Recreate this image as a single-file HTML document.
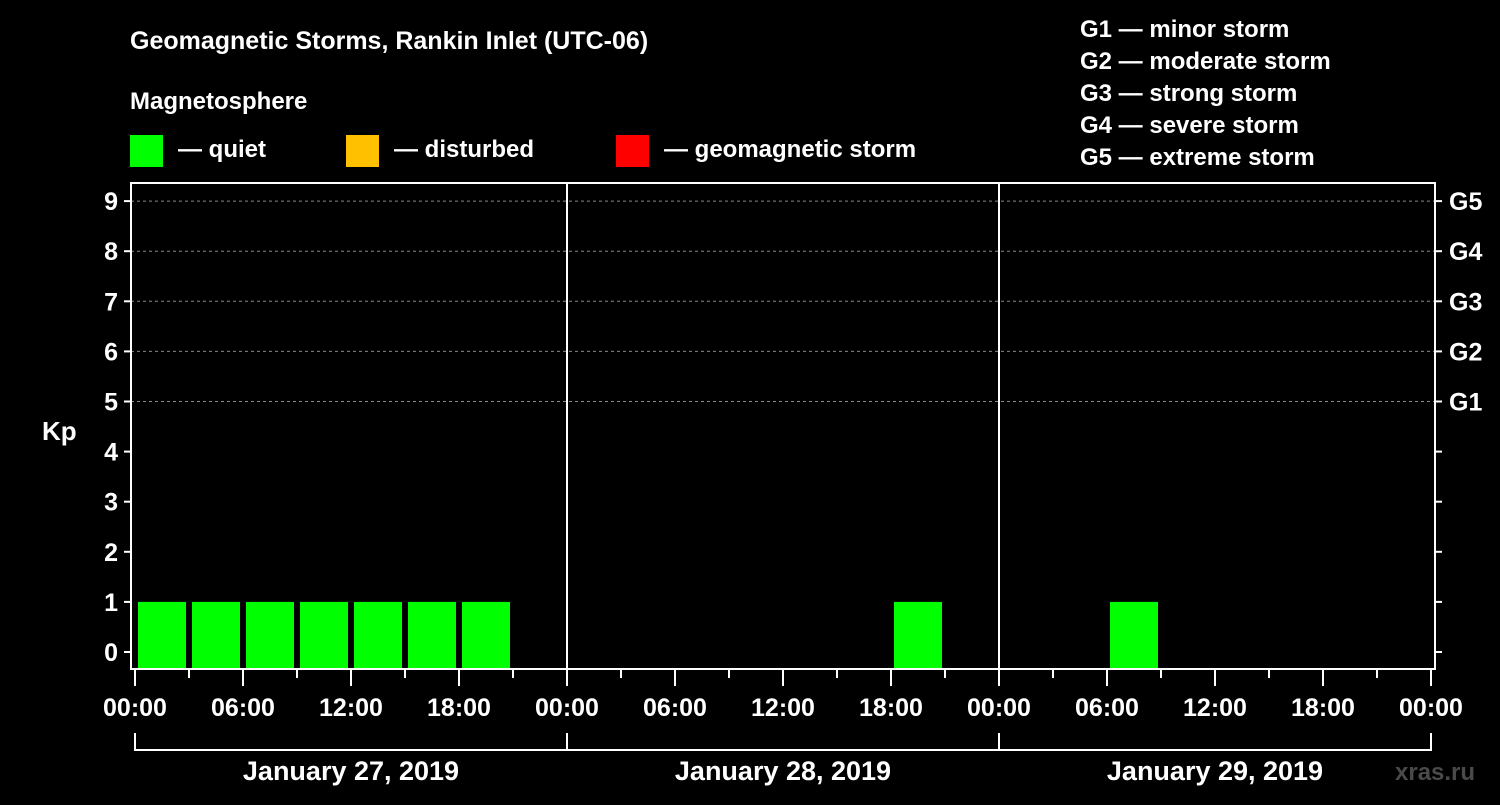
<!DOCTYPE html>
<html><head><meta charset="utf-8"><style>
body{margin:0;background:#000;width:1500px;height:800px;overflow:hidden}
svg text{font-family:"Liberation Sans",sans-serif;font-weight:bold;fill:#fff}
</style></head><body>
<svg id="c" width="1500" height="800">
<rect width="1500" height="800" fill="#000"/>
<text x="130" y="49" font-size="25">Geomagnetic Storms, Rankin Inlet (UTC-06)</text>
<text x="130" y="109" font-size="24">Magnetosphere</text>
<g><rect x="130" y="135" width="33" height="32" fill="#00ff00"/><text x="178" y="157" font-size="24">— quiet</text></g>
<g><rect x="346" y="135" width="33" height="32" fill="#ffc000"/><text x="394" y="157" font-size="24">— disturbed</text></g>
<g><rect x="616" y="135" width="33" height="32" fill="#ff0000"/><text x="664" y="157" font-size="24">— geomagnetic storm</text></g>
<g font-size="24">
<text x="1080" y="37">G1 — minor storm</text><text x="1080" y="69">G2 — moderate storm</text><text x="1080" y="101">G3 — strong storm</text><text x="1080" y="133">G4 — severe storm</text><text x="1080" y="165">G5 — extreme storm</text></g>
<text x="42" y="440" font-size="26">Kp</text>
<text x="1395" y="780" font-size="24" fill="#555" style="fill:#4a4a4a">xras.ru</text>
<g id="plot"></g>
</svg>
<script>
const days=["January 27, 2019","January 28, 2019","January 29, 2019"];
const kpDay1=[1,1,1,1,1,1,1,null];
const kpDay2=[null,null,null,null,null,null,1,null];
const kpDay3=[null,null,1,null,null,null,null,null];
const yTicks=[0,1,2,3,4,5,6,7,8,9];
const gLabels={5:"G1",6:"G2",7:"G3",8:"G4",9:"G5"};
const timeLabels=["00:00","06:00","12:00","18:00"];
const NS="http://www.w3.org/2000/svg";
const L=131,R=1435,T=183,B=669,X0=135,DAYW=432;
const y=v=>652-v*50.1;
const x=h=>X0+h*DAYW/24;
const g=document.getElementById('plot');
function el(t,a,p){const e=document.createElementNS(NS,t);for(const k in a)e.setAttribute(k,a[k]);(p||g).appendChild(e);return e;}
const series=[kpDay1,kpDay2,kpDay3];
// grid
yTicks.forEach(v=>{
 if(v>=5){const l=el('line',{x1:L,x2:R,y1:y(v),y2:y(v),stroke:'#888','stroke-dasharray':'3,3','stroke-width':1});
 
 }
 const t1=el('line',{x1:L-7,x2:L,y1:y(v),y2:y(v),stroke:'#fff','stroke-width':2});
 
 
 const t2=el('line',{x1:R,x2:R+7,y1:y(v),y2:y(v),stroke:'#fff','stroke-width':2});
 
 
 const tx=el('text',{x:L-13,y:y(v)+9,'font-size':25,'text-anchor':'end'});tx.textContent=v;
 
 
 if(gLabels[v]){const gt=el('text',{x:R+14,y:y(v)+9,'font-size':25});gt.textContent=gLabels[v];
 
 }
});
// bars
series.forEach((arr,d)=>arr.forEach((v,i)=>{
 if(v===null)return;
 const h0=d*24+i*3;
 const b=el('rect',{x:x(h0)+3,y:y(v),width:x(h0+3)-x(h0)-6,height:B-1-y(v),fill:v>=5?'#ff0000':(v>=4?'#ffc000':'#00ff00')});
 
 
}));
// frame
const fr=el('rect',{x:L,y:T,width:R-L,height:B-T,fill:'none',stroke:'#fff','stroke-width':2});


for(let d=1;d<days.length;d++){const s=el('line',{x1:x(d*24),x2:x(d*24),y1:T,y2:B,stroke:'#fff','stroke-width':2});
 
 }
// x ticks
for(let h=0;h<=72;h+=3){
 const major=h%6===0;
 const t=el('line',{x1:x(h),x2:x(h),y1:B,y2:B+(major?17:9),stroke:'#fff','stroke-width':2});
 
 
 if(major){const lb=el('text',{x:x(h),y:716,'font-size':25,'text-anchor':'middle'});lb.textContent=timeLabels[(h%24)/6];
 
 }
}
// day brackets
days.forEach((dn,d)=>{
 const a=x(d*24),b=x(d*24+24);
 const p=el('path',{d:`M${a},733V750H${b}V733`,fill:'none',stroke:'#fff','stroke-width':2});
 
 
 const t=el('text',{x:(a+b)/2,y:780,'font-size':27,'text-anchor':'middle'});t.textContent=dn;
 
 
});
</script>
</body></html>
